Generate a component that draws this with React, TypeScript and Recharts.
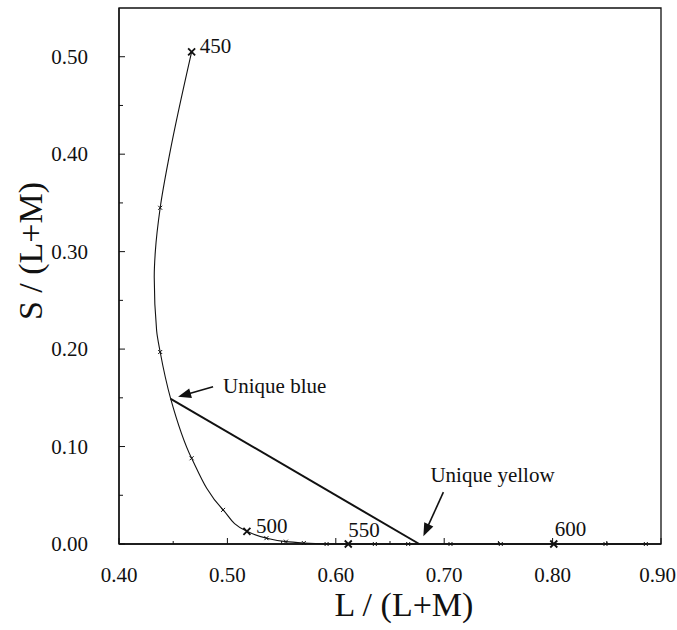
import React from 'react';
import { ComposedChart, Line, Scatter, XAxis, YAxis, ReferenceArea } from 'recharts';

// wavelength markers on the spectrum locus (nm)
const wavelengths = [450, 460, 470, 480, 490, 500, 510, 520, 530, 540, 550, 560, 570, 580, 590, 600, 610, 620];
const markerL = [0.467, 0.438, 0.438, 0.467, 0.496, 0.518, 0.536, 0.554, 0.5705, 0.5915, 0.6115, 0.636, 0.6668, 0.7058, 0.7522, 0.8011, 0.8488, 0.886];
const markerS = [0.505, 0.345, 0.197, 0.088, 0.035, 0.013, 0.006, 0.0024, 0.001, 0, 0, 0, 0, 0, 0, 0, 0, 0];
const labelled = [450, 500, 550, 600];

// locus (curved part, then flat along the axis)
const locusL = [0.467, 0.4467, 0.438, 0.4335, 0.4325, 0.4347, 0.438, 0.4477, 0.467, 0.496, 0.518, 0.536, 0.554, 0.5705];
const locusS = [0.505, 0.4, 0.345, 0.3, 0.274, 0.219, 0.197, 0.149, 0.088, 0.035, 0.013, 0.006, 0.0024, 0.001];
const tailL = [0.5705, 0.5915, 0.6115, 0.886];
const tailS = [0.001, 0, 0, 0];

// unique blue -> unique yellow
const hueL = [0.4477, 0.677];
const hueS = [0.149, 0];

const noteText = ['Unique blue', 'Unique yellow'];
const noteL = [0.4545, 0.6808];
const noteS = [0.151, 0.008];

const xTicks = [0.4, 0.45, 0.5, 0.55, 0.6, 0.65, 0.7, 0.75, 0.8, 0.85, 0.9];
const yTicks = [0, 0.05, 0.1, 0.15, 0.2, 0.25, 0.3, 0.35, 0.4, 0.45, 0.5];

const FONT = '"Liberation Serif", "Times New Roman", serif';
const INK = '#111';

const markers = wavelengths.map((w, i) => ({ w, l: markerL[i], s: markerS[i] }));
const locus = locusL.map((l, i) => ({ l, s: locusS[i] }));
const tail = tailL.map((l, i) => ({ l, s: tailS[i] }));
const hueLine = hueL.map((l, i) => ({ l, s: hueS[i] }));
const notes = noteText.map((text, i) => ({ text, l: noteL[i], s: noteS[i] }));

const labelOffset: Record<number, [number, number]> = {
  450: [8, 1],
  500: [9, 2],
  550: [0, -7],
  600: [1, -8],
};

// arrow tail and text offsets in px, relative to the arrow tip
const arrowStyle = [
  { tail: [35, -10], text: [45, -4] },
  { tail: [20, -44], text: [7, -54] },
];

const isMajor = (v: number) => Math.round(v * 100) % 10 === 0;

const XTick = (props: any) => {
  const { x, y, payload, index } = props;
  const major = isMajor(payload.value);
  const last = index === xTicks.length - 1;
  return (
    <g>
      <line x1={x} y1={y} x2={x} y2={y - (major ? 6 : 3)} stroke={INK} strokeWidth={1} />
      {major && (
        <text
          x={last ? x + 15 : x}
          y={y + 38}
          textAnchor={last ? 'end' : 'middle'}
          fontFamily={FONT}
          fontSize={21}
          fill={INK}
        >
          {payload.value.toFixed(2)}
        </text>
      )}
    </g>
  );
};

const YTick = (props: any) => {
  const { x, y, payload } = props;
  const major = isMajor(payload.value);
  return (
    <g>
      <line x1={x} y1={y} x2={x + (major ? 6 : 4)} y2={y} stroke={INK} strokeWidth={1} />
      {major && (
        <text x={x - 31} y={y + 7} textAnchor="end" fontFamily={FONT} fontSize={21} fill={INK}>
          {payload.value.toFixed(2)}
        </text>
      )}
    </g>
  );
};

const Cross = (props: any) => {
  const { cx, cy, payload } = props;
  const bold = labelled.includes(payload.w);
  const h = bold ? 3.5 : 2;
  const off = labelOffset[payload.w];
  return (
    <g>
      <path
        d={`M${cx - h},${cy - h}L${cx + h},${cy + h}M${cx - h},${cy + h}L${cx + h},${cy - h}`}
        stroke={INK}
        strokeWidth={bold ? 1.8 : 1}
      />
      {off && (
        <text x={cx + off[0]} y={cy + off[1]} fontFamily={FONT} fontSize={21} fill={INK}>
          {payload.w}
        </text>
      )}
    </g>
  );
};

const Arrow = (props: any) => {
  const { cx, cy, index } = props;
  const st = arrowStyle[index];
  const [tx, ty] = st.tail;
  const len = Math.hypot(tx, ty);
  const ux = tx / len;
  const uy = ty / len;
  const nx = -uy;
  const ny = ux;
  const hl = 13;
  const hw = 5;
  const bx = cx + ux * hl;
  const by = cy + uy * hl;
  return (
    <g>
      <line x1={bx - ux * 2} y1={by - uy * 2} x2={cx + tx} y2={cy + ty} stroke={INK} strokeWidth={1.6} />
      <polygon
        points={`${cx},${cy} ${bx + nx * hw},${by + ny * hw} ${bx - nx * hw},${by - ny * hw}`}
        fill={INK}
      />
      <text x={cx + st.text[0]} y={cy + st.text[1]} fontFamily={FONT} fontSize={21} fill={INK}>
        {props.payload.text}
      </text>
    </g>
  );
};

const XTitle = (props: any) => {
  const { x, y, width } = props.viewBox;
  return (
    <text x={x + width / 2 + 14} y={y + 72} textAnchor="middle" fontFamily={FONT} fontSize={34} fill={INK}>
      L / (L+M)
    </text>
  );
};

const YTitle = (props: any) => {
  const { x, y, height } = props.viewBox;
  const cx = x + 42;
  const cy = y + height / 2 - 25;
  return (
    <text
      x={cx}
      y={cy}
      transform={`rotate(-90, ${cx}, ${cy})`}
      textAnchor="middle"
      fontFamily={FONT}
      fontSize={34}
      fill={INK}
    >
      S / (L+M)
    </text>
  );
};

export default function App() {
  return (
    <div style={{ position: 'absolute', left: 0, top: 0, background: '#fff' }}>
      <ComposedChart width={677} height={630} margin={{ top: 8, right: 16, bottom: 0, left: 0 }}>
        <XAxis
          type="number"
          dataKey="l"
          domain={[0.4, 0.9]}
          ticks={xTicks}
          interval={0}
          height={86}
          tickSize={0}
          tickMargin={0}
          tickLine={false}
          tick={<XTick />}
          axisLine={{ stroke: INK, strokeWidth: 1.3 }}
          label={<XTitle />}
        />
        <YAxis
          type="number"
          dataKey="s"
          domain={[0, 0.55]}
          ticks={yTicks}
          interval={0}
          width={119}
          tickSize={0}
          tickMargin={0}
          tickLine={false}
          tick={<YTick />}
          axisLine={{ stroke: INK, strokeWidth: 1.3 }}
          label={<YTitle />}
        />
        <ReferenceArea x1={0.4} x2={0.9} y1={0} y2={0.55} fill="none" stroke={INK} strokeWidth={1.3} />
        <Line
          data={locus}
          dataKey="s"
          type="monotoneY"
          stroke={INK}
          strokeWidth={1.1}
          dot={false}
          activeDot={false}
          isAnimationActive={false}
        />
        <Line
          data={tail}
          dataKey="s"
          type="linear"
          stroke={INK}
          strokeWidth={1.1}
          dot={false}
          activeDot={false}
          isAnimationActive={false}
        />
        <Line
          data={hueLine}
          dataKey="s"
          type="linear"
          stroke={INK}
          strokeWidth={2}
          dot={false}
          activeDot={false}
          isAnimationActive={false}
        />
        <Scatter data={markers} dataKey="s" shape={<Cross />} isAnimationActive={false} />
        <Scatter data={notes} dataKey="s" shape={<Arrow />} isAnimationActive={false} />
      </ComposedChart>
    </div>
  );
}
